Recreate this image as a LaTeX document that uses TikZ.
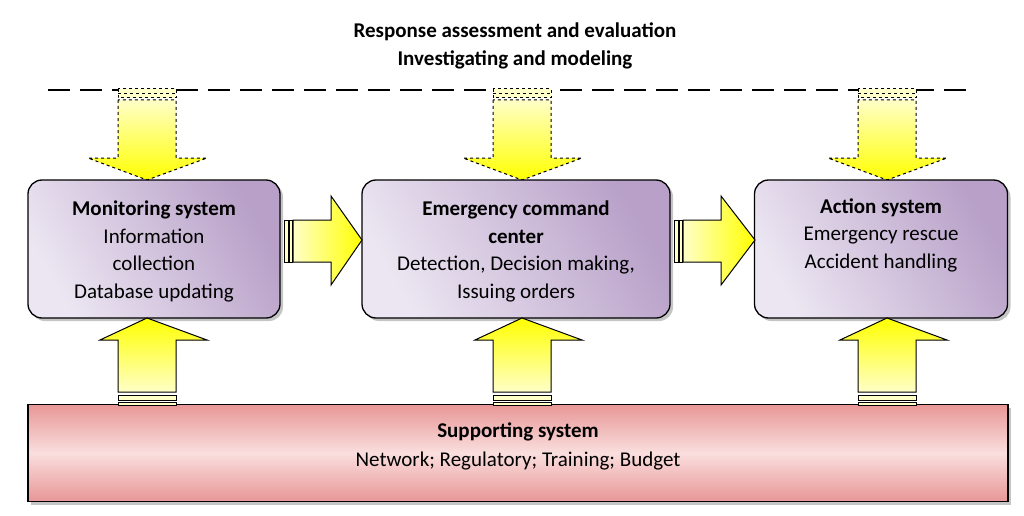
\documentclass[tikz,border=0pt]{standalone}
\usepackage{fontspec}
\setmainfont{Carlito}
\usetikzlibrary{shadows}
\definecolor{boxlo}{RGB}{184,160,200}
\definecolor{boxhi}{RGB}{236,230,242}
\definecolor{pinkd}{RGB}{232,150,150}
\definecolor{pinkl}{RGB}{250,222,222}
\definecolor{yel}{RGB}{255,255,0}
\definecolor{pale}{RGB}{255,255,200}
\tikzset{
  box/.style={draw=black,line width=1.3pt,rounded corners=14pt,left color=boxhi,right color=boxlo,shading angle=120,
    drop shadow={shadow xshift=3pt,shadow yshift=-3pt,fill=black!45},align=center,font=\fontsize{21}{27.5}\selectfont},
  arr/.style={draw=black,line width=1pt,line join=miter},
  txt/.style={font=\fontsize{21}{27.5}\selectfont\bfseries,align=center}
}
\newcommand\uparr[1]{%
  \path[arr,top color=yel,bottom color=pale] (#1-29,392)--(#1-29,340)--(#1-47,340)--(#1,318)--(#1+60,340)--(#1+29,340)--(#1+29,392)--cycle;
  \path[arr,fill=pale] (#1-29,395) rectangle (#1+29,400);
  \path[arr,fill=pale] (#1-29,402) rectangle (#1+29,405);}
\newcommand\dnarr[1]{%
  \path[arr,dashed,top color=pale,bottom color=yel] (#1-29,100)--(#1-29,158)--(#1-59,158)--(#1,180)--(#1+60,158)--(#1+29,158)--(#1+29,100)--cycle;
  \path[arr,dashed,fill=pale] (#1-29,89) rectangle (#1+29,98);
  \draw[dashed,line width=0.8pt] (#1-29,93.5)--(#1+29,93.5);}
\newcommand\rtarr[2]{%
  \path[arr,left color=pale,right color=yel] (#1+12,220)--(#1+50,220)--(#1+50,196)--(#2,240)--(#1+50,285)--(#1+50,262)--(#1+12,262)--cycle;
  \path[arr,fill=pale] (#1+3,220) rectangle (#1+7,262);
  \path[arr,fill=pale] (#1+8.5,220) rectangle (#1+11,262);}
\begin{document}
\begin{tikzpicture}[x=1pt,y=-1pt]
\useasboundingbox (0,0) rectangle (1024,516);
\node[txt] (t1) at (515,32) {Response assessment and evaluation};
\node[txt] (t2) at (515,60) {Investigating and modeling};
\draw[line width=2.5pt,dash pattern=on 22pt off 10pt] (48,90)--(970,90);
\dnarr{147}\dnarr{522}\dnarr{887}
\node[box,minimum width=252pt,minimum height=138pt] (m) at (154,249) {\\[-8pt]\textbf{Monitoring system}\\Information\\collection\\Database updating};
\node[box,minimum width=308pt,minimum height=138pt] (e) at (516,249) {\\[-8pt]\textbf{Emergency command}\\\textbf{center}\\Detection, Decision making,\\Issuing orders};
\node[box,minimum width=253pt,minimum height=138pt] (a) at (881,249) {\\[-8pt]\textbf{Action system}\\Emergency rescue\\Accident handling\\\strut};
\node[draw=black,line width=1.3pt,top color=pinkd,bottom color=pinkd,middle color=pinkl,shading angle=0,
  drop shadow={shadow xshift=3pt,shadow yshift=-3pt,fill=black!45},minimum width=980pt,minimum height=97pt,
  align=center,font=\fontsize{21}{29}\selectfont] (s) at (518,453) {\textbf{Supporting system}\\Network; Regulatory; Training; Budget\\[-12pt]};
\rtarr{281}{362}\rtarr{671}{755}
\uparr{147}\uparr{522}\uparr{887}
\end{tikzpicture}
\end{document}
